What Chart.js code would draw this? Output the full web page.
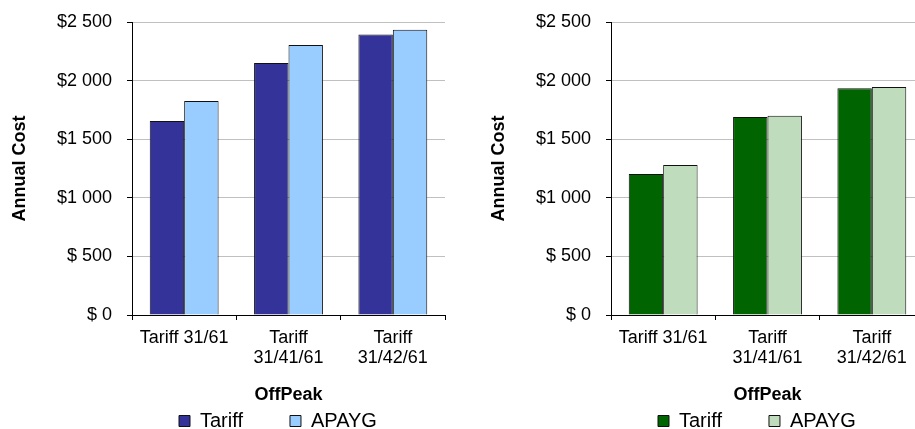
<!DOCTYPE html>
<html>
<head>
<meta charset="utf-8">
<script src="https://cdn.jsdelivr.net/npm/chart.js@4.4.1/dist/chart.umd.min.js"></script>
<style>
  html, body { margin: 0; padding: 0; background: #fff; overflow: hidden; width: 915px; height: 429px; }
  .wrap { position: absolute; top: 0; width: 460px; height: 441px; }
  #leftWrap { left: 0; }
  #rightWrap { left: 479px; }
</style>
</head>
<body>
<div class="wrap" id="leftWrap"><canvas id="leftChart" width="460" height="441"></canvas></div>
<div class="wrap" id="rightWrap"><canvas id="rightChart" width="460" height="441"></canvas></div>
<script>
// data
const categories = ['Tariff 31/61', ['Tariff', '31/41/61'], ['Tariff', '31/42/61']]
const seriesNames = ['Tariff', 'APAYG']
const leftTariff = [1655, 2150, 2393]
const leftApayg = [1826, 2304, 2434]
const rightTariff = [1203, 1689, 1934]
const rightApayg = [1280, 1701, 1945]
const yTickLabels = ['$ 0', '$ 500', '$1 000', '$1 500', '$2 000', '$2 500']
const yTitle = 'Annual Cost'
const xTitle = 'OffPeak'

Chart.defaults.font.family = '"Liberation Sans", Arial, sans-serif'
Chart.defaults.color = '#000'

const makeChart = (id, tariff, apayg, colors) => {
  const ctx = document.getElementById(id)
  return new Chart(ctx, {
    type: 'bar',
    data: {
      labels: categories,
      datasets: [{
        label: seriesNames[0],
        data: tariff,
        backgroundColor: colors[0],
        borderColor: '#111',
        borderWidth: 1,
        categoryPercentage: 0.66,
        barPercentage: 1
      }, {
        label: seriesNames[1],
        data: apayg,
        backgroundColor: colors[1],
        borderColor: '#111',
        borderWidth: 1,
        categoryPercentage: 0.66,
        barPercentage: 1
      }]
    },
    options: {
      responsive: false,
      animation: false,
      layout: { padding: { top: 22, right: 15, left: 0, bottom: 0 } },
      plugins: {
        tooltip: { enabled: false },
        legend: {
          position: 'bottom',
          fullSize: false,
          align: 'start',
          labels: {
            boxWidth: 11,
            boxHeight: 11,
            padding: 47,
            font: { size: 20 }
          }
        }
      },
      scales: {
        x: {
          grid: { drawOnChartArea: false, color: '#000', tickLength: 5 },
          border: { color: '#000' },
          ticks: { font: { size: 18, lineHeight: 1.1 }, padding: 8, maxRotation: 0 },
          title: {
            display: true,
            text: xTitle,
            font: { size: 18, weight: 'bold', lineHeight: 1.2 },
            padding: { top: 8.6, bottom: -41.8 }
          }
        },
        y: {
          min: 0,
          max: 2500,
          afterFit: (scale) => { scale.width = 132 },
          grid: { color: '#c0c0c0', tickColor: '#000', tickLength: 5 },
          border: { color: '#000' },
          ticks: {
            stepSize: 500,
            padding: 15,
            font: { size: 18, lineHeight: 0.78 },
            callback: (v, i) => yTickLabels[i]
          },
          title: {
            display: true,
            text: yTitle,
            font: { size: 18, weight: 'bold', lineHeight: 1.2 },
            padding: { top: 9.2, bottom: 0 }
          }
        }
      }
    }
  })
}

makeChart('leftChart', leftTariff, leftApayg, ['#333399', '#99ccff'])
makeChart('rightChart', rightTariff, rightApayg, ['#006400', '#bfdcbc'])
</script>
</body>
</html>
